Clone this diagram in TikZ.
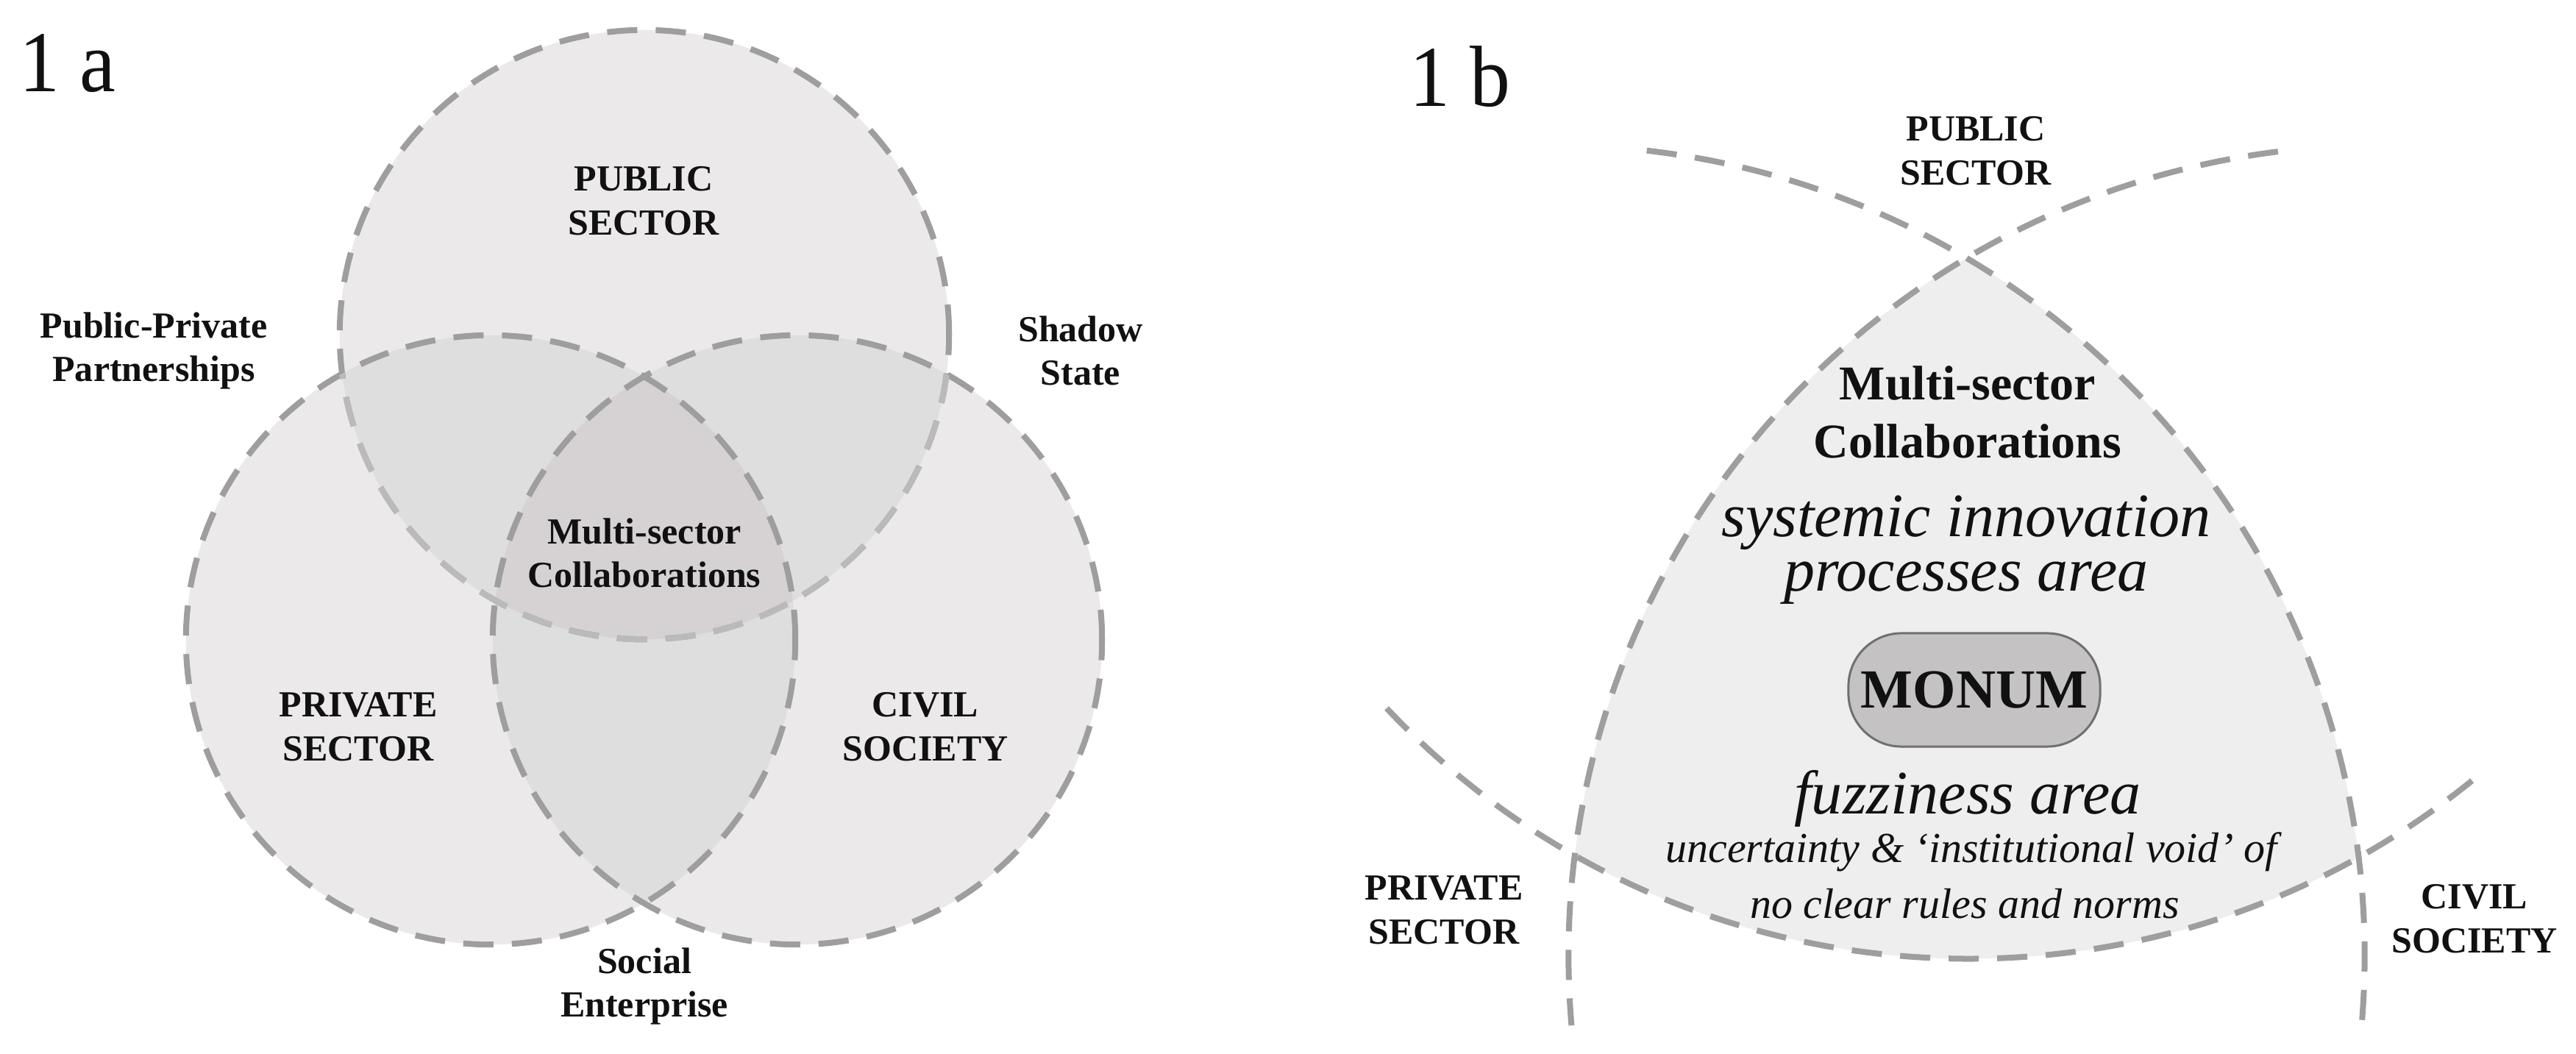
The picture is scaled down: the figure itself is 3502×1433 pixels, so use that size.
\documentclass[tikz,border=0pt]{standalone}
\usepackage{fontspec}
\setmainfont{Liberation Serif}
\newcommand{\pxfont}[1]{\fontsize{\dimexpr #1\dimexpr 0.2845pt\relax\relax}{\dimexpr #1\dimexpr 0.34pt\relax\relax}\selectfont}
\definecolor{venn}{HTML}{EBE9E9}
\definecolor{venntwo}{HTML}{DEDEDE}
\definecolor{vennthree}{HTML}{D6D2D3}
\definecolor{dashgray}{HTML}{9E9E9E}
\definecolor{dashlight}{HTML}{BABABA}
\definecolor{regionfill}{HTML}{EEEEEE}
\definecolor{pillfill}{HTML}{C4C2C2}
\definecolor{pillline}{HTML}{707070}
\definecolor{ink}{HTML}{111111}
\tikzset{
  dashline/.style={draw=dashgray,line width=0.08cm,dash pattern=on 0.41cm off 0.25cm},
  dashinner/.style={draw=dashlight,line width=0.08cm,dash pattern=on 0.41cm off 0.25cm},
  lab/.style={text=ink,font=\pxfont{50}\bfseries,align=center,inner sep=0pt},
  title/.style={text=ink,font=\pxfont{118},inner sep=0pt,xscale=0.93,transform shape},
  big/.style={text=ink,font=\pxfont{66}\bfseries,align=center,inner sep=0pt},
  ital/.style={text=ink,font=\pxfont{84}\itshape,align=center,inner sep=0pt},
  itsmall/.style={text=ink,font=\pxfont{58}\itshape,align=center,inner sep=0pt},
}
\begin{document}
\begin{tikzpicture}[x=0.01cm,y=0.01cm]
\useasboundingbox (0,0) rectangle (3502,1433);
% ---- panel a (y' = 1433 - y)
\coordinate (ct) at (876,978);
\coordinate (cl) at (667,563);
\coordinate (cr) at (1084,563);
\def\R{4.14cm}
\fill[venn] (ct) circle[radius=\R];
\fill[venn] (cl) circle[radius=\R];
\fill[venn] (cr) circle[radius=\R];
\begin{scope}
 \clip (ct) circle[radius=\R];
 \fill[venntwo] (cl) circle[radius=\R];
 \fill[venntwo] (cr) circle[radius=\R];
\end{scope}
\begin{scope}
 \clip (cl) circle[radius=\R];
 \fill[venntwo] (cr) circle[radius=\R];
\end{scope}
\begin{scope}
 \clip (ct) circle[radius=\R];
 \clip (cl) circle[radius=\R];
 \fill[vennthree] (cr) circle[radius=\R];
\end{scope}
\draw[dashline] (cl) circle[radius=\R];
\draw[dashline] (cr) circle[radius=\R];
\draw[dashline] (ct) circle[radius=\R];
\begin{scope}
 \clip (cl) circle[radius=\R];
 \draw[dashinner] (ct) circle[radius=\R];
\end{scope}
\begin{scope}
 \clip (cr) circle[radius=\R];
 \draw[dashinner] (ct) circle[radius=\R];
\end{scope}
\node[title] (ta) at (92,1347) {1 a};
\node[lab] (pub) at (875,1160) {PUBLIC\\SECTOR};
\node[lab] (ppp) at (209,956) {Public-Private\\Partnerships};
\node[lab] (sha) at (1469,956) {Shadow\\State};
\node[lab] (mul) at (876,681) {Multi-sector\\Collaborations};
\node[lab] (pri) at (487,445) {PRIVATE\\SECTOR};
\node[lab] (civ) at (1258,445) {CIVIL\\SOCIETY};
\node[lab] (soc) at (876,92) {Social\\Enterprise};
% ---- panel b
\coordinate (ra) at (2112,133);
\coordinate (la) at (3235,133);
\coordinate (ba) at (2676,1218);
\begin{scope}
 \clip (ra) circle[radius=11.02cm];
 \clip (la) circle[radius=11.02cm];
 \fill[regionfill] (ba) circle[radius=10.88cm];
\end{scope}
\draw[dashline] ([shift=(83.4:11.02cm)]ra) arc[start angle=83.4,end angle=-4.6,radius=11.02cm];
\draw[dashline] ([shift=(97.2:11.02cm)]la) arc[start angle=97.2,end angle=184.9,radius=11.02cm];
\draw[dashline] ([shift=(223.4:10.88cm)]ba) arc[start angle=223.4,end angle=309.7,radius=10.88cm];
\node[title] (tb) at (1985,1329) {1 b};
\node[lab] (pubb) at (2686,1228) {PUBLIC\\SECTOR};
\node[lab] (prib) at (1963,196) {PRIVATE\\SECTOR};
\node[lab] (civb) at (3364,184) {CIVIL\\SOCIETY};
\node[big] (mulb) at (2675,873) {Multi-sector\\Collaborations};
\node[ital] (sys) at (2673,685) {systemic innovation\\[-7.5pt]processes area};
\node[draw=pillline,line width=0.03cm,fill=pillfill,rounded corners=0.72cm,minimum width=3.42cm,minimum height=1.54cm,inner sep=0pt,text=ink,font=\pxfont{75}\bfseries] (mon) at (2684,495) {MONUM};
\node[ital] (fuz) at (2675,347) {fuzziness area};
\node[itsmall] (unc) at (2680,275) {uncertainty \& ‘institutional void’ of};
\node[itsmall] (noc) at (2671,204) {no clear rules and norms};
\end{tikzpicture}
\end{document}
